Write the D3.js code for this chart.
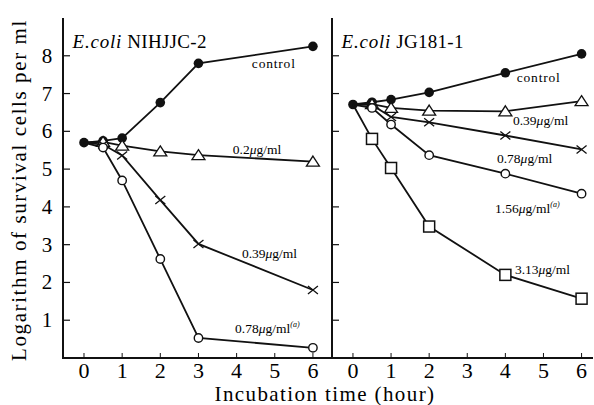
<!DOCTYPE html>
<html lang="en">
<head>
<meta charset="UTF-8">
<title>Survival cells</title>
<script src="https://d3js.org/d3.v7.min.js"></script>
<style>
body { margin: 0; background: #fff; }
</style>
</head>
<body>
<svg id="chart" width="594" height="405" font-family="'Liberation Serif', 'DejaVu Serif', serif"></svg>
<script>
// ---- data (hours, log survival cells per ml) ----
var timesA = [0, 0.5, 1, 2, 3, 6];
var controlA = [5.70, 5.75, 5.82, 6.76, 7.80, 8.25];
var tri02A   = [5.70, 5.72, 5.62, 5.47, 5.37, 5.20];
var x039A    = [5.70, 5.65, 5.36, 4.18, 3.02, 1.80];
var c078A    = [5.70, 5.57, 4.70, 2.62, 0.53, 0.27];

var timesB = [0, 0.5, 1, 2, 4, 6];
var controlB = [6.71, 6.77, 6.84, 7.03, 7.55, 8.05];
var tri039B  = [6.71, 6.72, 6.62, 6.55, 6.53, 6.80];
var x078B    = [6.71, 6.70, 6.38, 6.24, 5.89, 5.52];
var c156B    = [6.71, 6.62, 6.18, 5.37, 4.88, 4.35];
var sq313B   = [6.71, 5.80, 5.03, 3.48, 2.20, 1.57];

var yTicks = [1, 2, 3, 4, 5, 6, 7, 8];
var xTicks = [0, 1, 2, 3, 4, 5, 6];

var FONT = "'Liberation Serif', 'DejaVu Serif', serif";
var svg = d3.select("#chart");

var y = d3.scaleLinear().domain([0, 9]).range([358, 18]);
var xA = d3.scaleLinear().domain([-0.55, 6.5]).range([63, 332]);
var xB = d3.scaleLinear().domain([-0.55, 6.3]).range([332, 593]);

var panels = [
  {x: xA, times: timesA, title: "NIHJJC-2", series: [
    {vals: controlA, mark: "dot", label: "control", lt: 4.4, lv: 7.68},
    {vals: tri02A, mark: "tri", label: "0.2", lt: 3.9, lv: 5.4},
    {vals: x039A, mark: "x", label: "0.39", lt: 4.14, lv: 2.65},
    {vals: c078A, mark: "circ", label: "0.78", lt: 3.96, lv: 0.66, sup: true}
  ]},
  {x: xB, times: timesB, title: "JG181-1", series: [
    {vals: controlB, mark: "dot", label: "control", lt: 4.3, lv: 7.3},
    {vals: tri039B, mark: "tri", label: "0.39", lt: 4.2, lv: 6.17},
    {vals: x078B, mark: "x", label: "0.78", lt: 3.78, lv: 5.16},
    {vals: c156B, mark: "circ", label: "1.56", lt: 3.73, lv: 3.84, sup: true},
    {vals: sq313B, mark: "sq", label: "3.13", lt: 4.25, lv: 2.22}
  ]}
];

// axes frame
svg.append("line").attr("x1", 63).attr("x2", 63).attr("y1", y(9)).attr("y2", y(0))
  .attr("stroke", "#111").attr("stroke-width", 2);
svg.append("line").attr("x1", 332).attr("x2", 332).attr("y1", y(9)).attr("y2", y(0))
  .attr("stroke", "#111").attr("stroke-width", 2);
svg.append("line").attr("x1", 62).attr("x2", 593).attr("y1", y(0)).attr("y2", y(0))
  .attr("stroke", "#111").attr("stroke-width", 2);

// y ticks (inward)
[63, 332].forEach(function(x0) {
  svg.selectAll(null).data(yTicks).enter().append("line")
    .attr("x1", x0).attr("x2", x0 + 7)
    .attr("y1", function(d) { return y(d); }).attr("y2", function(d) { return y(d); })
    .attr("stroke", "#111").attr("stroke-width", 1.2);
});
svg.selectAll(null).data(yTicks).enter().append("text")
  .attr("x", 47).attr("y", function(d) { return y(d) + 7; })
  .attr("text-anchor", "middle").attr("font-size", 21).attr("font-family", FONT)
  .text(function(d) { return d; });

panels.forEach(function(p) {
  var x = p.x;
  // x ticks
  svg.selectAll(null).data(xTicks).enter().append("line")
    .attr("x1", function(d) { return x(d); }).attr("x2", function(d) { return x(d); })
    .attr("y1", y(0)).attr("y2", y(0) - 5)
    .attr("stroke", "#111").attr("stroke-width", 1);
  svg.selectAll(null).data(xTicks).enter().append("text")
    .attr("x", function(d) { return x(d); }).attr("y", 378)
    .attr("text-anchor", "middle").attr("font-size", 22).attr("font-family", FONT)
    .text(function(d) { return d; });

  // title
  var t = svg.append("text").attr("x", x(-0.3)).attr("y", 48)
    .attr("font-size", 19).attr("font-family", FONT);
  t.append("tspan").attr("font-style", "italic").attr("letter-spacing", 0.8).text("E.coli");
  t.append("tspan").attr("letter-spacing", 0.3).text(" " + p.title);

  var line = d3.line()
    .x(function(d, i) { return x(p.times[i]); })
    .y(function(d) { return y(d); });

  p.series.forEach(function(s) {
    svg.append("path").datum(s.vals)
      .attr("d", line).attr("fill", "none")
      .attr("stroke", "#111").attr("stroke-width", 1.8);

    var pts = s.vals.map(function(v, i) { return [x(p.times[i]), y(v)]; });
    if (s.mark != "dot") pts = pts.slice(1);
    var g = svg.append("g");
    pts.forEach(function(pt) {
      if (s.mark == "dot") {
        g.append("circle").attr("cx", pt[0]).attr("cy", pt[1]).attr("r", 4.8).attr("fill", "#111");
      } else if (s.mark == "circ") {
        g.append("circle").attr("cx", pt[0]).attr("cy", pt[1]).attr("r", 4.2)
          .attr("fill", "#fff").attr("stroke", "#111").attr("stroke-width", 1.4);
      } else if (s.mark == "tri") {
        g.append("path").attr("transform", "translate(" + pt[0] + "," + pt[1] + ")")
          .attr("d", "M0,-5.5L6.5,4.5L-6.5,4.5Z")
          .attr("fill", "#fff").attr("stroke", "#111").attr("stroke-width", 1.3);
      } else if (s.mark == "sq") {
        g.append("rect").attr("x", pt[0] - 5.5).attr("y", pt[1] - 5.5)
          .attr("width", 11).attr("height", 11)
          .attr("fill", "#fff").attr("stroke", "#111").attr("stroke-width", 1.5);
      } else if (s.mark == "x") {
        g.append("path").attr("transform", "translate(" + pt[0] + "," + pt[1] + ")")
          .attr("d", "M-5,-4L5,4M-5,4L5,-4")
          .attr("stroke", "#111").attr("stroke-width", 1.3);
      }
    });

    // label
    var lab = svg.append("text").attr("x", x(s.lt)).attr("y", y(s.lv))
      .attr("font-size", 13.5).attr("font-family", FONT);
    if (s.label == "control") {
      lab.attr("letter-spacing", 0.8).text("control");
    } else {
      lab.append("tspan").text(s.label);
      lab.append("tspan").attr("font-style", "italic").text("μ");
      lab.append("tspan").text("g/ml");
      if (s.sup) lab.append("tspan").attr("font-size", 8).attr("font-style", "italic")
        .attr("dy", -6).text("(a)");
    }
  });
});

// axis titles
svg.append("text")
  .attr("transform", "translate(26,190) rotate(-90)")
  .attr("text-anchor", "middle").attr("font-size", 21).attr("font-family", FONT)
  .attr("letter-spacing", 1.6)
  .text("Logarithm of survival cells per ml");

svg.append("text")
  .attr("x", 325).attr("y", 401)
  .attr("text-anchor", "middle").attr("font-size", 21).attr("font-family", FONT)
  .attr("letter-spacing", 1.4)
  .text("Incubation time (hour)");
</script>
</body>
</html>
